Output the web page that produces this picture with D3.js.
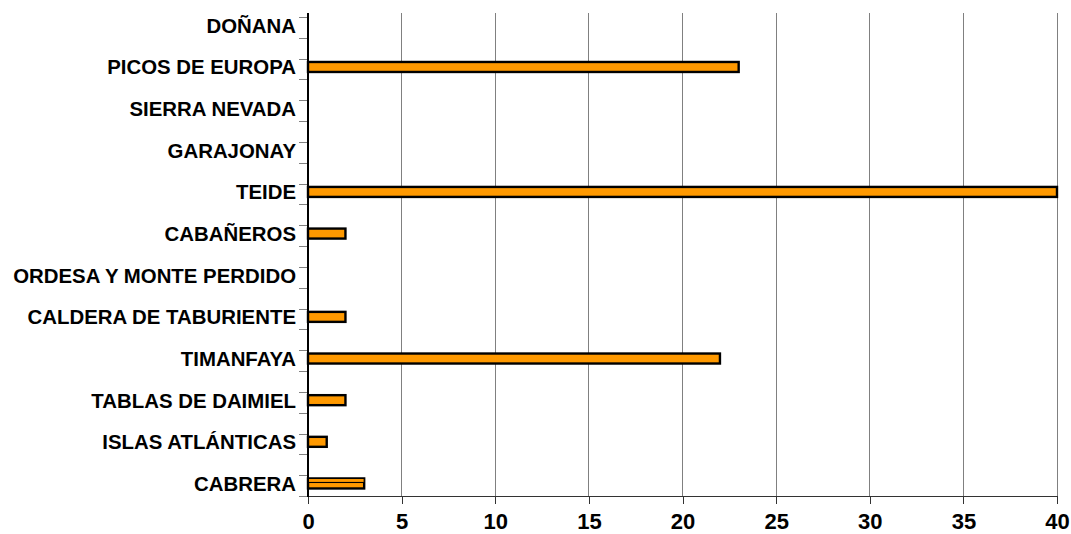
<!DOCTYPE html>
<html>
<head>
<meta charset="utf-8">
<script src="https://cdn.jsdelivr.net/npm/d3@7"></script>
<style>
  html, body { margin: 0; padding: 0; background: #fff; }
  svg { display: block; }
  text { font-family: "Liberation Sans", Arial, sans-serif; font-weight: bold; fill: #000; }
</style>
</head>
<body>
<div id="chart"></div>
<script>
// ---- data ----
const categories = ["DOÑANA", "PICOS DE EUROPA", "SIERRA NEVADA", "GARAJONAY", "TEIDE", "CABAÑEROS",
  "ORDESA Y MONTE PERDIDO", "CALDERA DE TABURIENTE", "TIMANFAYA", "TABLAS DE DAIMIEL",
  "ISLAS ATLÁNTICAS", "CABRERA"];
const values = [0, 23, 0, 0, 40, 2, 0, 2, 22, 2, 1, 3];
const values2 = [0, 0, 0, 0, 0, 0, 0, 0, 0, 0, 0, 3];
const xTicks = [0, 5, 10, 15, 20, 25, 30, 35, 40];

// ---- layout ----
const W = 1071, H = 534;
const mLeft = 308, mRight = 1057, mTop = 13, mBottom = 496;

const svg = d3.select("#chart").append("svg").attr("width", W).attr("height", H);

const x = d3.scaleLinear().domain([0, 40]).range([mLeft, mRight]);
const y = d3.scaleBand().domain(categories).range([4.5, 504.3]).paddingInner(0).paddingOuter(0);
const bw = y.bandwidth();
const yc = c => y(c) + bw / 2;
// category tick marks (two per category)
const tickY = d3.scaleLinear().domain([0, 23]).range([17, mBottom]);

// gridlines
svg.append("g").selectAll("line").data(xTicks.filter(t => t > 0)).join("line")
  .attr("x1", d => x(d)).attr("x2", d => x(d))
  .attr("y1", mTop).attr("y2", mBottom)
  .attr("stroke", "#808080").attr("stroke-width", 1).attr("shape-rendering", "crispEdges");

// x axis
const xAxis = d3.axisBottom(x).tickValues(xTicks).tickSize(8).tickPadding(8).tickFormat(d3.format("d"));
const gx = svg.append("g").attr("transform", `translate(0,${mBottom})`).call(xAxis);
gx.select(".domain").attr("stroke", "#333").attr("shape-rendering", "crispEdges");
gx.selectAll(".tick line").attr("stroke", "#333").attr("shape-rendering", "crispEdges");
gx.selectAll(".tick text").attr("font-size", 22).attr("font-family", "Liberation Sans, Arial, sans-serif")
  .attr("font-weight", "bold").attr("fill", "#000").attr("dy", null).attr("y", 33);

// bars
const data = categories.map((c, i) => ({ c, v: values[i], v2: values2[i] }));
svg.append("g").selectAll("rect").data(data.filter(d => d.v > 0)).join("rect")
  .attr("x", x(0)).attr("width", d => x(d.v) - x(0))
  .attr("y", d => yc(d.c) - 5).attr("height", 10)
  .attr("fill", "#FF9900").attr("stroke", "#000").attr("stroke-width", 2.4);
svg.append("g").selectAll("rect").data(data.filter(d => d.v2 > 0)).join("rect")
  .attr("x", x(0)).attr("width", d => x(d.v2) - x(0))
  .attr("y", d => yc(d.c) - 5).attr("height", 4)
  .attr("fill", "#FF9900").attr("stroke", "#000").attr("stroke-width", 1.1);

// y ticks
svg.append("g").selectAll("line").data(d3.range(24)).join("line")
  .attr("x1", mLeft - 9).attr("x2", mLeft)
  .attr("y1", d => Math.round(tickY(d)) + 0.5).attr("y2", d => Math.round(tickY(d)) + 0.5)
  .attr("stroke", "#808080").attr("stroke-width", 1);

// y axis line
svg.append("line").attr("x1", mLeft).attr("x2", mLeft).attr("y1", mTop).attr("y2", mBottom + 1)
  .attr("stroke", "#000").attr("stroke-width", 2);

// category labels
svg.append("g").selectAll("text").data(categories).join("text")
  .attr("x", 296).attr("y", d => yc(d) + 7.5)
  .attr("text-anchor", "end").attr("font-size", 20.4)
  .text(d => d);
</script>
</body>
</html>
